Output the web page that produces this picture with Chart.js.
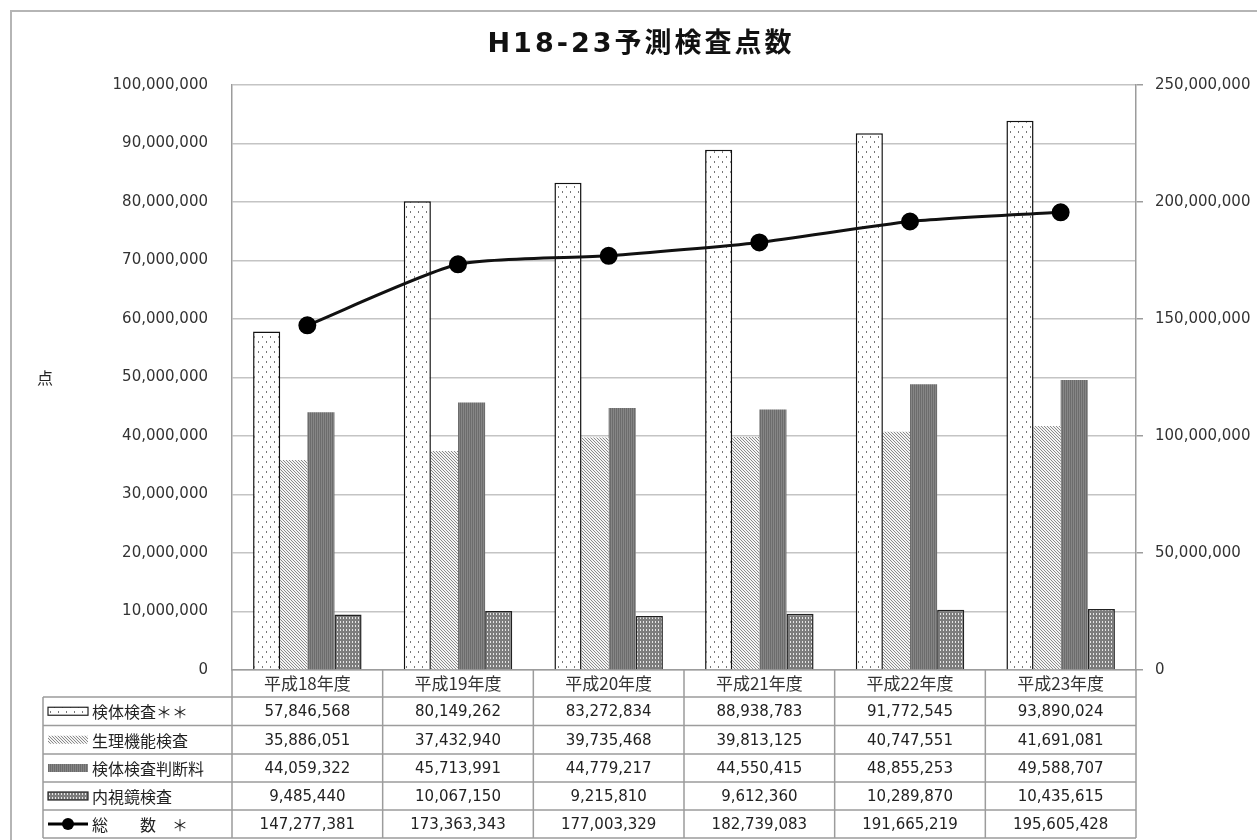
<!DOCTYPE html>
<html lang="ja">
<head>
<meta charset="utf-8">
<title>H18-23予測検査点数</title>
<script src="https://cdn.jsdelivr.net/npm/chart.js@4/dist/chart.umd.min.js"></script>
<style>
  html, body { margin: 0; padding: 0; background: #fff; }
  #wrap { width: 1257px; height: 840px; }
</style>
</head>
<body>
<div id="wrap"><canvas id="kensaChart" width="1257" height="840"></canvas></div>
<script>
// Data
const categories = ['平成18年度', '平成19年度', '平成20年度', '平成21年度', '平成22年度', '平成23年度'];
const seriesNames = ['検体検査＊＊', '生理機能検査', '検体検査判断料', '内視鏡検査', '総　　数　＊'];
const kentai    = [57846568, 80149262, 83272834, 88938783, 91772545, 93890024];
const seiri     = [35886051, 37432940, 39735468, 39813125, 40747551, 41691081];
const handan    = [44059322, 45713991, 44779217, 44550415, 48855253, 49588707];
const naishikyo = [9485440, 10067150, 9215810, 9612360, 10289870, 10435615];
const total     = [147277381, 173363343, 177003329, 182739083, 191665219, 195605428];

const fmt = v => v.toLocaleString('en-US');

// Fill patterns (Excel style)
function makePattern(w, h, draw) {
    const c = document.createElement('canvas');
    c.width = w; c.height = h;
    const g = c.getContext('2d');
    draw(g, w, h);
    return document.createElement('canvas').getContext('2d').createPattern(c, 'repeat');
}
const dotPattern = makePattern(8, 10, (g) => {
    g.fillStyle = '#fff'; g.fillRect(0, 0, 8, 10);
    g.fillStyle = '#777';
    g.fillRect(2, 1, 1, 2);
    g.fillRect(6, 6, 1, 2);
});
const hatchPattern = makePattern(3, 3, (g) => {
    g.fillStyle = '#f4f4f4'; g.fillRect(0, 0, 3, 3);
    g.fillStyle = '#8a8a8a';
    for (let i = 0; i < 3; i++) g.fillRect(i, i, 1, 1);
});
const darkPattern = makePattern(2, 2, (g) => {
    g.fillStyle = '#868686'; g.fillRect(0, 0, 2, 2);
    g.fillStyle = '#6c6c6c'; g.fillRect(0, 0, 1, 2);
});
const meshPattern = makePattern(3, 4, (g) => {
    g.fillStyle = '#7d7d7d'; g.fillRect(0, 0, 3, 4);
    g.fillStyle = '#e6e6e6'; g.fillRect(1, 1, 1, 2);
});

const fills = [dotPattern, hatchPattern, darkPattern, meshPattern];
const borders = ['#111', 'rgba(0,0,0,0)', 'rgba(0,0,0,0)', '#222'];
const borderWidths = [1.5, 0, 0, 1.5];

// Layout numbers
const PLOT_LEFT = 232, PLOT_RIGHT = 1136, PLOT_TOP = 85, PLOT_BOTTOM = 670;
const TABLE_LEFT = 43;
const rowLines = [697, 725.5, 754, 782, 810, 838];

const tablePlugin = {
    id: 'dataTable',
    beforeDraw(chart) {
        const ctx = chart.ctx;
        ctx.save();
        ctx.fillStyle = '#fff';
        ctx.fillRect(0, 0, chart.width, chart.height);
        ctx.restore();
    },
    afterDraw(chart) {
        const ctx = chart.ctx;
        const xs = chart.scales.x;
        const n = categories.length;
        const colW = (xs.right - xs.left) / n;
        const bottom = rowLines[rowLines.length - 1];
        ctx.save();

        // outer frame
        ctx.strokeStyle = '#b5b5b5';
        ctx.lineWidth = 2;
        ctx.beginPath();
        ctx.moveTo(11, chart.height);
        ctx.lineTo(11, 11);
        ctx.lineTo(chart.width, 11);
        ctx.stroke();

        // title
        ctx.fillStyle = '#111';
        ctx.font = 'bold 27px "DejaVu Sans", "Noto Sans CJK JP", sans-serif';
        ctx.textAlign = 'center';
        ctx.textBaseline = 'middle';
        ctx.letterSpacing = '3px';
        ctx.fillText('H18-23予測検査点数', 641, 45);
        ctx.letterSpacing = '0px';

        // axis unit
        ctx.font = '16px "Noto Sans CJK JP", sans-serif';
        ctx.fillStyle = '#222';
        ctx.fillText('点', 45, 378);

        // table grid
        ctx.strokeStyle = '#9c9c9c';
        ctx.lineWidth = 1.5;
        ctx.beginPath();
        for (let i = 0; i <= n; i++) {
            const x = xs.left + i * colW;
            ctx.moveTo(x, xs.top);
            ctx.lineTo(x, bottom);
        }
        ctx.moveTo(TABLE_LEFT, rowLines[0]);
        ctx.lineTo(TABLE_LEFT, bottom);
        rowLines.forEach(y => {
            ctx.moveTo(TABLE_LEFT, y);
            ctx.lineTo(xs.right, y);
        });
        ctx.stroke();

        // values
        const rows = [kentai, seiri, handan, naishikyo, total];
        ctx.font = '15px "DejaVu Sans", sans-serif';
        ctx.fillStyle = '#222';
        ctx.textAlign = 'center';
        rows.forEach((vals, r) => {
            const cy = (rowLines[r] + rowLines[r + 1]) / 2 + 1;
            vals.forEach((v, i) => {
                ctx.fillText(fmt(v), xs.left + (i + 0.5) * colW, cy);
            });
        });

        // legend keys + names
        ctx.textAlign = 'left';
        ctx.font = '16px "Noto Sans CJK JP", sans-serif';
        rows.forEach((vals, r) => {
            const cy = (rowLines[r] + rowLines[r + 1]) / 2;
            if (r < 4) {
                ctx.fillStyle = fills[r];
                ctx.fillRect(48, cy - 4, 40, 8);
                if (borderWidths[r] > 0) {
                    ctx.strokeStyle = '#222';
                    ctx.lineWidth = 1.2;
                    ctx.strokeRect(48, cy - 4, 40, 8);
                }
            } else {
                ctx.strokeStyle = '#000';
                ctx.lineWidth = 3;
                ctx.beginPath();
                ctx.moveTo(48, cy);
                ctx.lineTo(88, cy);
                ctx.stroke();
                ctx.fillStyle = '#000';
                ctx.beginPath();
                ctx.arc(68, cy, 6, 0, Math.PI * 2);
                ctx.fill();
            }
            ctx.fillStyle = '#222';
            ctx.fillText(seriesNames[r], 92, cy + 1);
        });
        ctx.restore();
    }
};

const barSets = [kentai, seiri, handan, naishikyo].map((vals, i) => ({
    type: 'bar',
    label: seriesNames[i],
    data: vals,
    yAxisID: 'y',
    backgroundColor: fills[i],
    borderColor: borders[i],
    borderWidth: borderWidths[i],
    borderSkipped: 'bottom',
    categoryPercentage: 0.72,
    barPercentage: 1.0,
    order: 2
}));

const config = {
    data: {
        labels: categories,
        datasets: [
            ...barSets,
            {
                type: 'line',
                label: seriesNames[4],
                data: total,
                yAxisID: 'y1',
                borderColor: '#111',
                borderWidth: 3,
                pointRadius: 7.5,
                pointBackgroundColor: '#000',
                pointBorderColor: '#000',
                tension: 0.2,
                order: 1
            }
        ]
    },
    options: {
        responsive: false,
        animation: false,
        layout: { padding: { left: 0, right: 0, top: PLOT_TOP, bottom: 0 } },
        plugins: {
            legend: { display: false },
            title: { display: false },
            tooltip: { enabled: false }
        },
        scales: {
            x: {
                offset: true,
                grid: { display: false, drawTicks: false },
                border: { display: true, color: '#9c9c9c', width: 1.5 },
                ticks: {
                    padding: 3,
                    color: '#333',
                    font: { family: '"Noto Sans CJK JP", sans-serif', size: 17 }
                },
                afterFit(scale) { scale.height = 840 - PLOT_BOTTOM; }
            },
            y: {
                position: 'left',
                min: 0,
                max: 100000000,
                ticks: {
                    stepSize: 10000000,
                    padding: 24,
                    color: '#333',
                    font: { family: '"DejaVu Sans", sans-serif', size: 15 },
                    callback: v => fmt(v)
                },
                grid: { color: '#c4c4c4', lineWidth: 1.5, drawTicks: false },
                border: { color: '#9c9c9c', width: 1.5 },
                afterFit(scale) { scale.width = PLOT_LEFT; }
            },
            y1: {
                position: 'right',
                min: 0,
                max: 250000000,
                ticks: {
                    stepSize: 50000000,
                    padding: 12,
                    color: '#333',
                    font: { family: '"DejaVu Sans", sans-serif', size: 15 },
                    callback: v => fmt(v)
                },
                grid: { drawOnChartArea: false, color: '#9c9c9c', lineWidth: 1.5, tickLength: 7 },
                border: { color: '#9c9c9c', width: 1.5 },
                afterFit(scale) { scale.width = 1257 - PLOT_RIGHT; }
            }
        }
    },
    plugins: [tablePlugin]
};

const ctx = document.getElementById('kensaChart').getContext('2d');
new Chart(ctx, config);
</script>
</body>
</html>
